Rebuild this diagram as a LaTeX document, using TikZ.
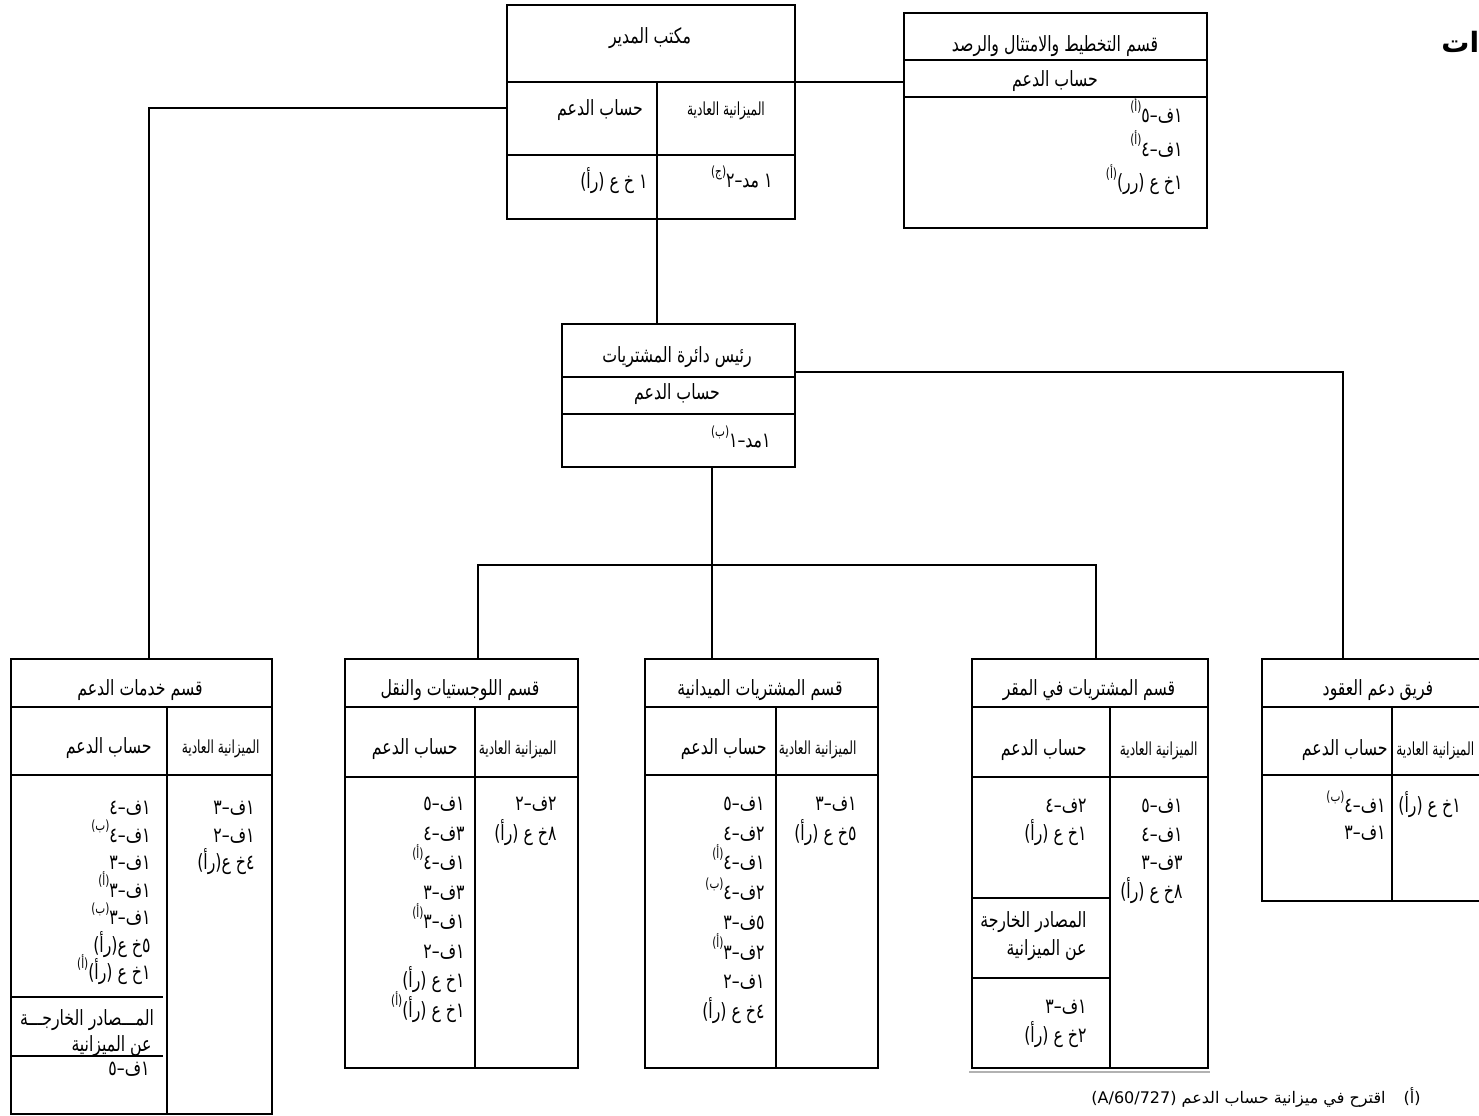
\documentclass[tikz,border=0pt]{standalone}
\usepackage{fontspec}
\TeXXeTstate=1
\newfontfamily\arabicfont[Script=Arabic, FakeStretch=0.75]{DejaVu Sans}
\newfontfamily\arabicnarrow[Script=Arabic, FakeStretch=0.68]{DejaVu Sans}
\newfontfamily\arabicfn[Script=Arabic]{DejaVu Sans}
\newcommand\arab[1]{{\arabicfont\beginR#1\endR}}
\newcommand\arabn[1]{{\arabicnarrow\beginR#1\endR}}
\newcommand\fnm[1]{\raisebox{1ex}{\fontsize{7}{8}\selectfont(#1)}}
\newcommand\listcol[5]{%
  \foreach \itm [count=\i] in {#5} {\node[tx, anchor=east] (#1-\i) at (#2, {#3+(\i-1)*#4}) {\arabicfont\itm};}}
\tikzset{
  box/.style={draw, line width=1pt, inner sep=0pt, anchor=north west},
  tx/.style={inner sep=0pt, font=\fontsize{10.5}{12}\selectfont, text height=9pt, text depth=1.5pt},
  hd/.style={tx, font=\fontsize{9}{11}\selectfont},
  ln/.style={line width=1pt},
  conn/.style={line width=1pt},
}
\begin{document}
\begin{tikzpicture}[x=0.5pt,y=-0.5pt]
\useasboundingbox (0,0) rectangle (1479,1115);
\clip (0,0) rectangle (1479,1115);
% boxes
\node[box, minimum width=144pt, minimum height=107pt] (dir) at (506,4) {};
\node[box, minimum width=151.5pt, minimum height=107.5pt] (plan) at (903,12) {};
\node[box, minimum width=116.5pt, minimum height=71.5pt] (chief) at (561,323) {};
\node[box, minimum width=130.5pt, minimum height=227.5pt] (sup) at (10,658) {};
\node[box, minimum width=116.5pt, minimum height=204.5pt] (log) at (344,658) {};
\node[box, minimum width=116.5pt, minimum height=204.5pt] (fld) at (644,658) {};
\node[box, minimum width=118pt, minimum height=204.5pt] (hq) at (971,658) {};
\node[box, minimum width=117pt, minimum height=121pt] (ctr) at (1261,658) {};
% internal lines
\draw[ln] (506,82)--(794,82) (506,155)--(794,155) (657,82)--(657,218);
\draw[ln] (903,60)--(1206,60) (903,97)--(1206,97);
\draw[ln] (561,377)--(794,377) (561,414)--(794,414);
\draw[ln] (10,707)--(271,707) (10,775)--(271,775) (167,707)--(167,1113) (10,997)--(163,997) (10,1056)--(163,1056);
\draw[ln] (344,707)--(577,707) (344,777)--(577,777) (475,707)--(475,1067);
\draw[ln] (644,707)--(877,707) (644,775)--(877,775) (776,707)--(776,1067);
\draw[ln] (971,707)--(1207,707) (971,777)--(1207,777) (1110,707)--(1110,1067) (971,898)--(1110,898) (971,978)--(1110,978);
\draw[gray!60, line width=0.6pt] (969,1072)--(1210,1072);
\draw[ln] (1261,707)--(1495,707) (1261,775)--(1495,775) (1392,707)--(1392,900);
% connectors
\draw[conn] (dir.east |- 0,82) -- (plan.west |- 0,82);
\draw[conn] (dir.south -| 657,0) -- (chief.north -| 657,0);
\draw[conn] (dir.west |- 0,108) -| (sup.north -| 149,0);
\draw[conn] (chief.east |- 0,372) -| (ctr.north -| 1343,0);
\draw[conn] (chief.south -| 712,0) -- (fld.north -| 712,0);
\coordinate (busL) at (478,565);
\coordinate (busR) at (1096,565);
\draw[conn] (log.north -| busL) -- (busL) -- (busR) -- (hq.north -| busR);
% director
\node[tx] (dir-t) at (650,36) {\arab{مكتب المدير}};
\node[tx] (dir-h1) at (600,108) {\arab{حساب الدعم}};
\node[hd] (dir-h2) at (726,108) {\arabn{الميزانية العادية}};
\node[tx, anchor=east] (dir-d1) at (648,181) {\arab{١ خ ع (رأ)}};
\node[tx, anchor=east] (dir-d2) at (773,180) {\arab{١ مد–٢\fnm{ج}}};
% planning
\node[tx] (plan-t) at (1055,44) {\arab{قسم التخطيط والامتثال والرصد}};
\node[tx] (plan-h) at (1055,79) {\arab{حساب الدعم}};
\listcol{plan}{1183}{115}{33.5}{\beginR ١ف–٥\fnm{أ}\endR, \beginR ١ف–٤\fnm{أ}\endR, \beginR ١خ ع (رر)\fnm{أ}\endR}
% chief
\node[tx] (chief-t) at (677,355) {\arab{رئيس دائرة المشتريات}};
\node[tx] (chief-h) at (677,392) {\arab{حساب الدعم}};
\node[tx, anchor=east] (chief-d) at (771,440) {\arab{١مد–١\fnm{ب}}};
% support services
\node[tx] (sup-t) at (140,688) {\arab{قسم خدمات الدعم}};
\node[tx, anchor=east] (sup-h1) at (152,746) {\arab{حساب الدعم}};
\node[hd, anchor=east] (sup-h2) at (260,746) {\arabn{الميزانية العادية}};
\listcol{supl}{151}{807}{27.5}{\beginR ١ف–٤\endR, \beginR ١ف–٤\fnm{ب}\endR, \beginR ١ف–٣\endR, \beginR ١ف–٣\fnm{أ}\endR, \beginR ١ف–٣\fnm{ب}\endR, \beginR ٥خ ع(رأ)\endR, \beginR ١خ ع (رأ)\fnm{أ}\endR}
\listcol{supr}{255}{807}{27.5}{\beginR ١ف–٣\endR, \beginR ١ف–٢\endR, \beginR ٤خ ع(رأ)\endR}
\node[tx] (sup-x1) at (87,1018) {\arab{المـــصادر الخارجـــة}};
\node[tx, anchor=east] (sup-x2) at (152,1044) {\arab{عن الميزانية}};
\node[tx, anchor=east] (sup-x3) at (150,1068) {\arab{١ف–٥}};
% logistics
\node[tx] (log-t) at (460,688) {\arab{قسم اللوجستيات والنقل}};
\node[tx, anchor=east] (log-h1) at (458,747) {\arab{حساب الدعم}};
\node[hd, anchor=east] (log-h2) at (557,747) {\arabn{الميزانية العادية}};
\listcol{logl}{465}{803}{29.5}{\beginR ١ف–٥\endR, \beginR ٣ف–٤\endR, \beginR ١ف–٤\fnm{أ}\endR, \beginR ٣ف–٣\endR, \beginR ١ف–٣\fnm{أ}\endR, \beginR ١ف–٢\endR, \beginR ١خ ع (رأ)\endR, \beginR ١خ ع (رأ)\fnm{أ}\endR}
\listcol{logr}{557}{803}{30}{\beginR ٢ف–٢\endR, \beginR ٨خ ع (رأ)\endR}
% field
\node[tx] (fld-t) at (760,688) {\arab{قسم المشتريات الميدانية}};
\node[tx, anchor=east] (fld-h1) at (767,747) {\arab{حساب الدعم}};
\node[hd, anchor=east] (fld-h2) at (857,747) {\arabn{الميزانية العادية}};
\listcol{fldl}{765}{803}{29.7}{\beginR ١ف–٥\endR, \beginR ٢ف–٤\endR, \beginR ١ف–٤\fnm{أ}\endR, \beginR ٢ف–٤\fnm{ب}\endR, \beginR ٥ف–٣\endR, \beginR ٢ف–٣\fnm{أ}\endR, \beginR ١ف–٢\endR, \beginR ٤خ ع (رأ)\endR}
\listcol{fldr}{857}{803}{30}{\beginR ١ف–٣\endR, \beginR ٥خ ع (رأ)\endR}
% HQ
\node[tx] (hq-t) at (1089,688) {\arab{قسم المشتريات في المقر}};
\node[tx, anchor=east] (hq-h1) at (1087,748) {\arab{حساب الدعم}};
\node[hd, anchor=east] (hq-h2) at (1198,748) {\arabn{الميزانية العادية}};
\listcol{hql}{1087}{805}{28}{\beginR ٢ف–٤\endR, \beginR ١خ ع (رأ)\endR}
\node[tx, anchor=east] (hq-x1) at (1087,920) {\arab{المصادر الخارجة}};
\node[tx, anchor=east] (hq-x2) at (1087,948) {\arab{عن الميزانية}};
\listcol{hqb}{1087}{1006}{29}{\beginR ١ف–٣\endR, \beginR ٢خ ع (رأ)\endR}
\listcol{hqr}{1183}{805}{28.5}{\beginR ١ف–٥\endR, \beginR ١ف–٤\endR, \beginR ٣ف–٣\endR, \beginR ٨خ ع (رأ)\endR}
% contracts
\node[tx] (ctr-t) at (1378,688) {\arab{فريق دعم العقود}};
\node[tx, anchor=east] (ctr-h1) at (1388,748) {\arab{حساب الدعم}};
\node[hd, anchor=west] (ctr-h2) at (1396,748) {\arabn{الميزانية العادية}};
\listcol{ctrl}{1386}{805}{27}{\beginR ١ف–٤\fnm{ب}\endR, \beginR ١ف–٣\endR}
\node[tx, anchor=west] (ctr-r) at (1398,805) {\arab{١خ ع (رأ)}};
% footnote
\node[tx, anchor=east, font=\fontsize{8}{10}\selectfont] (fn-m) at (1421,1096) {{\arabicfn\beginR (أ)\endR}};
\node[tx, anchor=east, font=\fontsize{8}{10}\selectfont] (fn-t) at (1386,1096) {{\arabicfn\beginR اقترح في ميزانية حساب الدعم (A/60/727)\endR}};
% partial heading
\node[tx, anchor=west, font=\fontsize{14}{16}\bfseries] (head) at (1441,45) {{\arabicfn\beginR ات\endR}};
\end{tikzpicture}
\end{document}
